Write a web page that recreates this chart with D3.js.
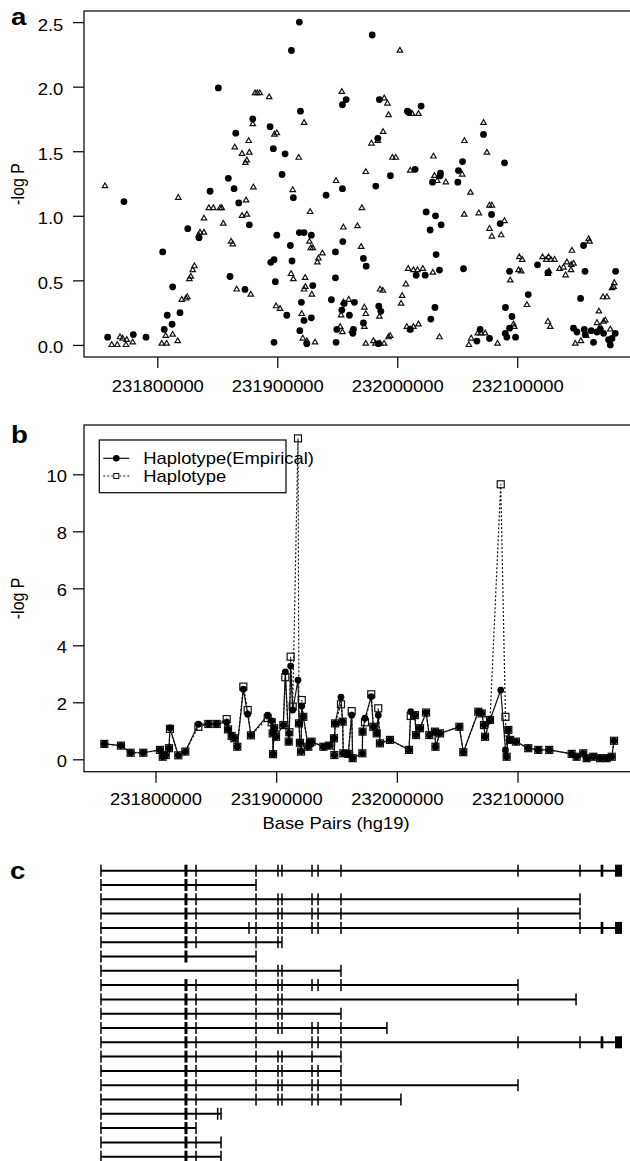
<!DOCTYPE html>
<html>
<head>
<meta charset="utf-8">
<script src="https://cdn.jsdelivr.net/npm/d3@7"></script>
<style>
  html, body { margin: 0; padding: 0; background: #fff; }
  svg { display: block; }
</style>
</head>
<body>
<svg id="fig" width="630" height="1161"></svg>
<script>
// Three stacked panels: (a) single-SNP -log P, (b) haplotype -log P, (c) transcript models.

// ---- panel a: single markers, [position bp, -log P]
const circlePts = [
  [231850900,1.99],[231918400,2.50],[231911800,2.28],[231919300,1.81],[231879600,1.75],[231894000,1.69],
  [231865400,1.64],[231896700,1.52],[231906500,1.48],[231904000,1.32],[231859200,1.29],[231864000,1.21],
  [231844000,1.19],[231913400,1.14],[231979100,2.40],[231954300,1.86],[231957400,1.90],[231985100,1.90],
  [232008500,1.81],[232009700,1.80],[232019900,1.85],[231983800,1.60],[232071900,1.63],[232054400,1.42],
  [232089400,1.41],[232014900,1.36],[231994300,1.31],[232036000,1.33],[232035800,1.31],[232029400,1.26],
  [232051000,1.35],[232050500,1.26],[231954300,1.21],[231982100,1.23],[231940700,1.16],[231772200,1.11],
  [231825400,0.90],[231804500,0.72],[231834800,0.83],[231867900,1.10],[231876700,0.93],[231860600,0.53],
  [231873100,0.43],[231812800,0.45],[231818900,0.25],[231808300,0.23],[231812300,0.16],[231805800,0.12],
  [231758600,0.06],[231780000,0.08],[231790600,0.06],[231897300,0.02],[231899600,0.85],[231910900,0.77],
  [231918400,0.87],[231922300,0.87],[231928400,0.85],[231912300,0.65],[231894600,0.64],[231897300,0.66],
  [231898400,0.49],[231907900,0.23],[231920100,0.33],[231922300,0.19],[231928400,0.21],[231929600,0.46],
  [231918800,0.11],[231924600,0.01],[232024100,1.03],[232031900,1.00],[232036600,0.93],[232027400,0.89],
  [231954600,0.80],[231948500,0.72],[231971800,0.67],[231974100,0.61],[231948500,0.52],[232032400,0.70],
  [232035200,0.58],[232055200,0.59],[232015800,0.54],[232023300,0.54],[232085800,0.94],[232078600,1.01],
  [231945100,0.35],[231955700,0.32],[231964300,0.33],[231953800,0.27],[231960100,0.23],[231949600,0.12],
  [231963500,0.12],[231963000,0.09],[231949000,0.02],[231971800,0.17],[231984600,0.30],[231986300,0.26],
  [232031400,0.29],[232028000,0.20],[232010800,0.12],[231984300,0.01],[232093600,0.57],[232109200,0.39],
  [232090200,0.29],[232095600,0.22],[232093600,0.13],[232090000,0.09],[232091400,0.06],[232098600,0.06],
  [232069100,0.12],[232066400,0.03],[232076900,0.05],[232116900,0.62],[232125600,0.56],[232155300,0.77],
  [232156500,0.57],[232182000,0.57],[232152800,0.36],[232146900,0.13],[232149800,0.10],[232155900,0.12],
  [232156700,0.08],[232166500,0.10],[232169200,0.12],[232172000,0.09],[232163600,0.02],[232176100,0.04],
  [232177600,0.00],[232181700,0.09],[232179000,0.05],[232161700,0.11]
];

const trianglePts = [
  [231756400,1.23],[231881500,1.95],[231883400,1.95],[231885400,1.95],[231893200,1.92],[231879600,1.71],
  [231922300,1.72],[231897600,1.63],[231899600,1.64],[231876200,1.58],[231864600,1.53],[231870600,1.48],
  [231876700,1.49],[231874600,1.43],[231873400,1.41],[231917900,1.45],[231880100,1.22],[231912900,1.20],
  [231817500,1.14],[232002200,2.28],[231953800,1.96],[231989100,1.91],[231991800,1.87],[231992700,1.78],
  [232012400,1.79],[232017700,1.79],[232071900,1.72],[231988200,1.65],[231978500,1.56],[231983800,1.58],
  [232056000,1.58],[231996000,1.45],[231998800,1.45],[232030200,1.46],[232074700,1.49],[231973800,1.34],
  [232010800,1.35],[232031000,1.31],[232033300,1.27],[232040500,1.26],[232054100,1.32],[232061000,1.18],
  [231949000,1.27],[231838900,0.98],[231842900,1.06],[231846700,1.06],[231852300,1.06],[231853700,1.06],
  [231855000,0.94],[231835600,0.87],[231838900,0.87],[231834500,0.85],[231874000,1.12],[231870600,1.00],
  [231874600,1.01],[231861500,0.80],[231862900,0.78],[231830900,0.61],[231829500,0.58],[231827900,0.53],
  [231826700,0.51],[231823900,0.36],[231820400,0.35],[231825000,0.37],[231866200,0.43],[231877900,0.39],
  [231762000,0.00],[231766600,0.00],[231768900,0.06],[231771100,0.05],[231774500,0.04],[231773900,0.00],
  [231779500,0.02],[231803700,0.01],[231807800,0.01],[231807000,0.07],[231812800,0.08],[231817000,0.03],
  [231927400,1.03],[231926800,0.80],[231927900,0.75],[231929600,0.75],[231933400,0.64],[231911500,0.55],
  [231913400,0.51],[231923200,0.52],[231923400,0.45],[231922300,0.43],[231928800,0.39],[231899000,0.30],
  [231902300,0.28],[231920400,0.24],[231921300,0.05],[231924600,0.03],[231931500,0.02],[231970500,1.06],
  [231955100,0.91],[231966800,0.92],[231969900,0.76],[232055800,1.01],[232068000,1.02],[232076900,1.08],
  [232078900,1.08],[232076900,0.90],[232078900,0.84],[232086600,0.85],[232089400,0.96],[231937600,0.71],
  [231934300,0.67],[232009100,0.59],[232013500,0.58],[232016800,0.58],[232021300,0.59],[232029700,0.56],
  [232007200,0.47],[232004100,0.38],[232003200,0.32],[231985700,0.43],[231988000,0.42],[231972600,0.29],
  [231973800,0.24],[231985100,0.22],[231972600,0.14],[231955100,0.33],[231959600,0.35],[231953200,0.23],
  [231952400,0.14],[231954300,0.10],[231962100,0.11],[231973800,0.01],[231980100,0.03],[231981800,0.01],
  [231985700,0.01],[231989100,0.01],[231992700,0.06],[231994100,0.07],[232008000,0.14],[232010800,0.12],
  [232013500,0.14],[232017700,0.16],[232035200,0.06],[232059700,0.00],[232061600,0.05],[232067200,0.09],
  [232069700,0.09],[232073300,0.09],[232083600,0.01],[232096900,0.16],[232097500,0.14],[232101700,0.68],
  [232104200,0.66],[232101100,0.58],[232103300,0.57],[232094200,0.50],[232108100,0.31],[232121100,0.68],
  [232124200,0.66],[232126100,0.68],[232128100,0.66],[232131100,0.66],[232126400,0.57],[232125600,0.55],
  [232135300,0.59],[232138600,0.60],[232141400,0.64],[232145000,0.62],[232146900,0.63],[232144800,0.58],
  [232140300,0.54],[232145600,0.73],[232159500,0.82],[232160300,0.80],[232125600,0.18],[232127500,0.14],
  [232168100,0.26],[232172000,0.18],[232173400,0.19],[232171500,0.37],[232174800,0.37],[232180300,0.45],
  [232179000,0.44],[232180900,0.48],[232148400,0.01],[232153100,0.03],[232166500,0.17],[232169200,0.14],
  [232157500,0.07],[232177600,0.12]
];

const ticksA_y = [0, 0.5, 1, 1.5, 2, 2.5];
const ticksX = [231800000, 231900000, 232000000, 232100000];

// ---- panel b: haplotype windows
const hapPos = [
  231757600,231771400,231779400,231789900,231803700,231806000,231808500,231811200,231812000,231818900,
  231824700,231835500,231843800,231850700,231859000,231860100,231863100,231865300,231867800,231872800,
  231876400,231879100,231893000,231896300,231897100,231897400,231898400,231899900,231905900,231907600,
  231910400,231910900,231912000,231913700,231918100,231918900,231919700,231920600,231921200,231922500,
  231926600,231928000,231929400,231939100,231943800,231947900,231948200,231948800,231953700,231955100,
  231955600,231959800,231962600,231963400,231971400,231971600,231973600,231978800,231980500,231983300,
  231984600,231986000,231994300,232010100,232011500,232015000,232015900,232019200,232024200,232026900,
  232031600,232032000,232035800,232051800,232055100,232067500,232070300,232072200,232073100,232077200,
  232086100,232090000,232091000,232092400,232093800,232098700,232108900,232117200,232126300,232144900,
  232149000,232154500,232157300,232162800,232168400,232173900,232178100,232180000
];
const hapEmpirical = [
  0.54,0.48,0.23,0.23,0.33,0.09,0.15,0.39,1.10,0.14,
  0.27,1.23,1.24,1.24,1.30,1.05,0.82,0.74,0.44,2.46,
  1.58,0.84,1.55,1.35,0.91,0.18,1.09,0.79,1.20,3.07,
  0.62,0.91,3.27,1.73,2.78,1.26,0.58,0.27,1.87,1.49,
  0.44,0.58,0.62,0.44,0.48,0.74,0.15,1.26,2.18,1.32,
  0.21,0.19,1.55,0.04,0.21,0.97,1.44,2.20,1.14,0.91,
  1.55,0.56,0.68,0.33,1.67,1.55,0.85,1.09,1.64,0.85,
  0.97,0.44,0.91,1.14,0.25,1.67,1.61,1.20,0.79,1.38,
  2.43,0.33,0.09,1.03,0.68,0.62,0.39,0.33,0.33,0.19,
  0.09,0.21,0.04,0.09,0.04,0.04,0.09,0.65
];
const hapNominal = [
  0.54,0.48,0.23,0.23,0.33,0.09,0.15,0.39,1.07,0.14,
  0.27,1.14,1.24,1.24,1.41,1.05,0.82,0.74,0.44,2.55,
  1.73,0.84,1.45,1.30,0.91,0.18,1.09,0.79,1.20,2.88,
  0.62,0.95,3.60,1.85,11.26,1.26,0.58,0.27,2.08,1.49,
  0.44,0.58,0.62,0.44,0.48,0.74,0.15,1.26,1.93,1.32,
  0.21,0.19,1.69,0.04,0.21,0.97,1.30,2.28,1.14,0.91,
  1.79,0.56,0.68,0.33,1.52,1.55,0.85,1.09,1.64,0.85,
  0.97,0.44,0.91,1.14,0.25,1.67,1.61,1.20,0.79,1.38,
  9.65,1.49,0.09,1.03,0.68,0.62,0.39,0.33,0.33,0.19,
  0.09,0.21,0.04,0.09,0.04,0.04,0.09,0.65
];
const ticksB_y = [0, 2, 4, 6, 8, 10];
const legendLabels = ['Haplotype(Empirical)', 'Haplotype'];

// ---- panel c: exons [id, start, end] and transcripts (exon ids, in order)
const exons = [
  ['A',231754700,231754900],['B',231824000,231826500],['C',231833500,231833700],
  ['S',231851400,231851600],['T',231854200,231854400],['D',231877400,231877600],
  ['E',231883200,231883400],['F',231901400,231901600],['G',231904700,231904900],
  ['H',231929600,231929800],['I',231934600,231934800],['J',231953600,231953800],
  ['P',231991700,231991900],['Q',232003300,232003500],['K',232100300,232100500],
  ['R',232148400,232148600],['L',232151700,232151900],['M',232168900,232171100],
  ['N',232180800,232186600]
];
const transcripts = [
  'ABCEFGHIJKLMN','ABCE','ABCEFGHIJL','ABCEFGHIJKL','ABCDEFGHIJKLMN','ABCEFG','ABE',
  'AEFGJ','ABCEFGHIJK','ABCEFGKR','ABCEFGJ','ABCEFGHIJP','ABCEHIJKLMN','ABCEFGHJ',
  'ABCEFGHIJ','ABCEFGHIJK','ABCEFGHIJQ','ABCST','ABC','ABCT','ABCT'
];

// ------------------------------------------------------------------
const FONT = 'Arial, "Liberation Sans", Helvetica, sans-serif';
const SX = 1.15; // the source figure is stretched horizontally
const INK = '#111';

const svg = d3.select('#fig').attr('font-family', FONT);

function styleAxis(g, dy){
  g.select('.domain').remove();
  g.attr('font-family', FONT).attr('font-size', 16);
  g.selectAll('.tick line').attr('stroke', INK).attr('stroke-width', 1.3);
  g.selectAll('.tick text').attr('fill', '#000').attr('transform', `scale(${SX},1)`);
  if (dy != null) g.selectAll('.tick text').attr('dy', dy);
}

function label(x, y, str, opts){
  opts = opts || {};
  const t = svg.append('text')
    .attr('transform', `translate(${x},${y}) scale(${SX},1)` + (opts.rotate ? ` rotate(${opts.rotate})` : ''))
    .attr('font-size', opts.size || 16)
    .attr('font-weight', opts.bold ? 'bold' : null)
    .attr('text-anchor', opts.anchor || 'start')
    .attr('fill', '#000')
    .text(str);
  return t;
}

// ================= panel a =================
const A = {left: 84, right: 630, top: 11, bottom: 357};
const xA = d3.scaleLinear().domain([231738900, 232194000]).range([A.left, A.right]);
const yA = d3.scaleLinear().domain([-0.0935, 2.586]).range([A.bottom, A.top]);

const gA = svg.append('g');
gA.append('rect')
  .attr('x', A.left).attr('y', A.top)
  .attr('width', A.right - A.left + 2).attr('height', A.bottom - A.top)
  .attr('fill', 'none').attr('stroke', INK).attr('stroke-width', 1.3);

gA.append('g').attr('transform', `translate(${A.left},0)`)
  .call(d3.axisLeft(yA).tickValues(ticksA_y).tickFormat(d3.format('.1f')).tickSize(11).tickPadding(7))
  .call(g => styleAxis(g, '0.5em'));

gA.append('g').attr('transform', `translate(0,${A.bottom})`)
  .call(d3.axisBottom(xA).tickValues(ticksX).tickFormat(d3.format('d')).tickSize(11).tickPadding(12.6))
  .call(g => styleAxis(g));

const tri = d3.symbol().type(d3.symbolTriangle).size(13);
gA.append('g').selectAll('path').data(trianglePts).join('path')
  .attr('transform', d => `translate(${xA(d[0])},${yA(d[1])})`)
  .attr('d', tri)
  .attr('fill', 'none').attr('stroke', INK).attr('stroke-width', 1.2);

gA.append('g').selectAll('circle').data(circlePts).join('circle')
  .attr('cx', d => xA(d[0])).attr('cy', d => yA(d[1])).attr('r', 3.4)
  .attr('fill', '#000');

label(23.5, (A.top + A.bottom) / 2, '-log P', {rotate: -90, anchor: 'middle'});
label(11, 25, 'a', {bold: true, size: 24});

// ================= panel b =================
const B = {left: 84, right: 630, top: 425, bottom: 771.7};
const xB = d3.scaleLinear().domain([231740750, 232193220]).range([B.left, B.right]);
const yB = d3.scaleLinear().domain([-0.435, 11.73]).range([B.bottom, B.top]);

const gB = svg.append('g');
gB.append('rect')
  .attr('x', B.left).attr('y', B.top)
  .attr('width', B.right - B.left + 2).attr('height', B.bottom - B.top)
  .attr('fill', 'none').attr('stroke', INK).attr('stroke-width', 1.3);

gB.append('g').attr('transform', `translate(${B.left},0)`)
  .call(d3.axisLeft(yB).tickValues(ticksB_y).tickFormat(d3.format('d')).tickSize(11).tickPadding(3.8))
  .call(g => styleAxis(g, '0.42em'));

gB.append('g').attr('transform', `translate(0,${B.bottom})`)
  .call(d3.axisBottom(xB).tickValues(ticksX).tickFormat(d3.format('d')).tickSize(11).tickPadding(10.9))
  .call(g => styleAxis(g));

const nominal = hapPos.map((p, i) => [p, hapNominal[i]]);
const empirical = hapPos.map((p, i) => [p, hapEmpirical[i]]);
const lineB = d3.line().x(d => xB(d[0])).y(d => yB(d[1]));
const SQ = 7;

gB.append('path').datum(nominal).attr('d', lineB)
  .attr('fill', 'none').attr('stroke', INK).attr('stroke-width', 1.2).attr('stroke-dasharray', '2,2');
gB.append('g').selectAll('rect').data(nominal).join('rect')
  .attr('x', d => xB(d[0]) - SQ / 2).attr('y', d => yB(d[1]) - SQ / 2)
  .attr('width', SQ).attr('height', SQ)
  .attr('fill', 'none').attr('stroke', INK).attr('stroke-width', 1.2);

gB.append('path').datum(empirical).attr('d', lineB)
  .attr('fill', 'none').attr('stroke', INK).attr('stroke-width', 1.2);
gB.append('g').selectAll('circle').data(empirical).join('circle')
  .attr('cx', d => xB(d[0])).attr('cy', d => yB(d[1])).attr('r', 3.4)
  .attr('fill', '#000');

// legend
const lg = gB.append('g').attr('transform', 'translate(99.3,440)');
lg.append('rect').attr('width', 186.7).attr('height', 52.7)
  .attr('fill', '#fff').attr('stroke', INK).attr('stroke-width', 1.3);
legendLabels.forEach((txt, i) => {
  const y = 18.3 + i * 17.7;
  lg.append('line').attr('x1', 4).attr('x2', 30).attr('y1', y).attr('y2', y)
    .attr('stroke', INK).attr('stroke-width', 1.2)
    .attr('stroke-dasharray', i ? '2,2' : null);
  if (i === 0) {
    lg.append('circle').attr('cx', 17).attr('cy', y).attr('r', 3.3).attr('fill', '#000');
  } else {
    lg.append('rect').attr('x', 14.5).attr('y', y - 2.5).attr('width', 5).attr('height', 5)
      .attr('fill', '#fff').attr('stroke', INK).attr('stroke-width', 1);
  }
  lg.append('text')
    .attr('transform', `translate(44,${y}) scale(${SX},1)`)
    .attr('dy', '0.35em').attr('font-size', 16).attr('fill', '#000')
    .text(txt);
});

label(23.5, (B.top + B.bottom) / 2, '-log P', {rotate: -90, anchor: 'middle'});
label(336, 829, 'Base Pairs (hg19)', {anchor: 'middle'});
label(11, 443, 'b', {bold: true, size: 24});

// ================= panel c =================
const exonById = new Map(exons.map(e => [e[0], {start: e[1], end: e[2]}]));
const yC = d3.scalePoint().domain(d3.range(transcripts.length)).range([870.7, 1156.7]);
const EXON_H = 12;

const gC = svg.append('g');
const rows = gC.selectAll('g.tx').data(transcripts).join('g')
  .attr('class', 'tx')
  .attr('transform', (d, i) => `translate(0,${yC(i)})`);

rows.append('line')
  .attr('x1', d => xB(exonById.get(d[0]).start))
  .attr('x2', d => xB(exonById.get(d[d.length - 1]).end))
  .attr('stroke', '#000').attr('stroke-width', 2);

rows.selectAll('rect').data(d => d.split('').map(id => exonById.get(id))).join('rect')
  .attr('x', e => {
    const w = xB(e.end) - xB(e.start);
    return w < 1.5 ? (xB(e.start) + xB(e.end)) / 2 - 0.75 : xB(e.start);
  })
  .attr('width', e => Math.max(1.5, xB(e.end) - xB(e.start)))
  .attr('y', -EXON_H / 2).attr('height', EXON_H)
  .attr('fill', '#000');

label(10, 879, 'c', {bold: true, size: 24});
</script>
</body>
</html>
